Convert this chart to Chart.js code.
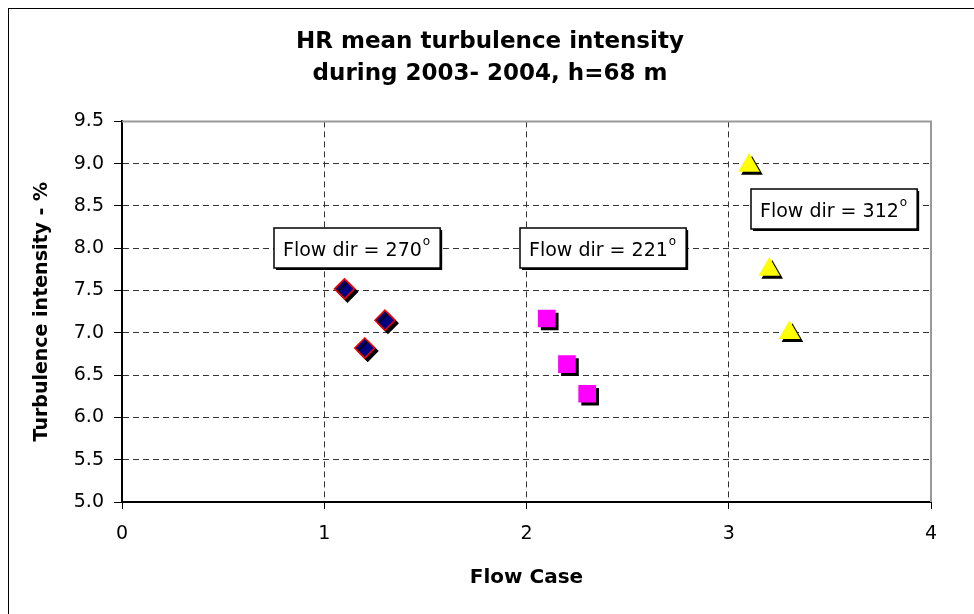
<!DOCTYPE html>
<html>
<head>
<meta charset="utf-8">
<script src="https://cdn.jsdelivr.net/npm/chart.js@4"></script>
<style>
  html, body { margin: 0; padding: 0; background: #fff; overflow: hidden; }
  #wrap { position: relative; width: 974px; height: 614px; }
  #frame { position: absolute; left: 8px; top: 8px; width: 1200px; height: 900px; border: 1px solid #000; box-sizing: border-box; pointer-events: none; }
</style>
</head>
<body>
<div id="wrap">
  <canvas id="c" width="974" height="614"></canvas>
  <div id="frame"></div>
</div>
<script>
// HR mean turbulence intensity, three flow directions
var dir270X = [1.1, 1.2, 1.3];
var dir270Y = [7.52, 6.82, 7.15];
var dir221X = [2.1, 2.2, 2.3];
var dir221Y = [7.17, 6.63, 6.28];
var dir312X = [3.1, 3.2, 3.3];
var dir312Y = [8.98, 7.75, 7.0];

var noteText = ['Flow dir = 270', 'Flow dir = 221', 'Flow dir = 312'];
var noteX = [1.16, 2.38, 3.52];
var noteY = [8.0, 8.0, 8.47];

function pts(xs, ys) {
  return xs.map(function (x, i) { return { x: x, y: ys[i] }; });
}

var font = '"DejaVu Sans", Arial, sans-serif';

// black drop shadow under the markers
var shadowPlugin = {
  id: 'markerShadow',
  beforeDatasetsDraw: function (chart) {
    var ctx = chart.ctx;
    ctx.save();
    ctx.shadowColor = '#000';
    ctx.shadowOffsetX = 3;
    ctx.shadowOffsetY = 3;
    ctx.shadowBlur = 0;
  },
  afterDatasetsDraw: function (chart) { chart.ctx.restore(); }
};

// grey top/right edge of the plot, and the "Flow dir" boxes
var notesPlugin = {
  id: 'notes',
  beforeDatasetsDraw: function (chart) {
    var a = chart.chartArea, ctx = chart.ctx;
    ctx.save();
    ctx.strokeStyle = '#999';
    ctx.lineWidth = 2;
    ctx.beginPath();
    ctx.moveTo(a.left, a.top);
    ctx.lineTo(a.right, a.top);
    ctx.lineTo(a.right, a.bottom);
    ctx.stroke();
    ctx.restore();
  },
  afterDraw: function (chart) {
    var ctx = chart.ctx, xs = chart.scales.x, ys = chart.scales.y;
    ctx.save();
    noteText.forEach(function (t, i) {
      var cx = xs.getPixelForValue(noteX[i]);
      var cy = ys.getPixelForValue(noteY[i]);
      ctx.font = '19px ' + font;
      var w = ctx.measureText(t).width;
      ctx.font = '12px ' + font;
      var sw = ctx.measureText('o').width;
      var bw = w + sw + 20, bh = 40;
      var x0 = Math.round(cx - bw / 2), y0 = Math.round(cy - bh / 2);
      ctx.fillStyle = '#000';
      ctx.fillRect(x0 + 2, y0 + 2, bw, bh);
      ctx.fillStyle = '#fff';
      ctx.fillRect(x0, y0, bw, bh);
      ctx.strokeStyle = '#000';
      ctx.lineWidth = 1.5;
      ctx.strokeRect(x0, y0, bw, bh);
      ctx.fillStyle = '#000';
      ctx.textBaseline = 'alphabetic';
      ctx.textAlign = 'left';
      ctx.font = '19px ' + font;
      ctx.fillText(t, x0 + 9, y0 + 28);
      ctx.font = '12px ' + font;
      ctx.fillText('o', x0 + 9 + w + 1, y0 + 17);
    });
    ctx.restore();
  }
};

new Chart(document.getElementById('c'), {
  type: 'scatter',
  data: {
    datasets: [
      { label: '270', data: pts(dir270X, dir270Y), pointStyle: 'rectRot', pointRadius: 10,
        backgroundColor: '#000080', borderColor: '#ff0000', borderWidth: 1.5 },
      { label: '221', data: pts(dir221X, dir221Y), pointStyle: 'rect', pointRadius: 12.5,
        backgroundColor: '#ff00ff', borderColor: '#ff00ff', borderWidth: 0 },
      { label: '312', data: pts(dir312X, dir312Y), pointStyle: 'triangle', pointRadius: 12.5,
        backgroundColor: '#ffff00', borderColor: '#ffff00', borderWidth: 0 }
    ]
  },
  options: {
    responsive: false,
    animation: false,
    // wider left padding so the centred title sits where the original has it
    layout: { padding: { left: 49, right: 43, top: 0, bottom: 0 } },
    plugins: {
      legend: { display: false },
      tooltip: { enabled: false },
      title: {
        display: true,
        text: ['HR mean turbulence intensity', 'during 2003- 2004, h=68 m'],
        color: '#000',
        font: { family: font, size: 23, weight: 'bold', lineHeight: 1.4 },
        padding: { top: 26, bottom: 31 }
      }
    },
    scales: {
      x: {
        type: 'linear', min: 0, max: 4,
        afterFit: function (s) { s.height = 112; },
        ticks: { stepSize: 1, color: '#000', padding: 14, font: { family: font, size: 19 } },
        grid: { color: '#333', tickColor: '#000', tickLength: 7, tickBorderDash: [] },
        border: { color: '#000', width: 2, dash: [6, 4] },
        title: { display: true, text: 'Flow Case', color: '#000', padding: { top: 0, bottom: 24 },
                 font: { family: font, size: 20, weight: 'bold' } }
      },
      y: {
        min: 5, max: 9.5,
        afterFit: function (s) { s.width = 73; },
        ticks: { stepSize: 0.5, color: '#000', padding: 10, font: { family: font, size: 19 },
                 callback: function (v) { return Number(v).toFixed(1); } },
        grid: { color: '#333', tickColor: '#000', tickLength: 8, tickBorderDash: [] },
        border: { color: '#000', width: 2, dash: [6, 4] },
        title: { display: true, text: 'Turbulence intensity - %', color: '#000', padding: { top: -18, bottom: 0 },
                 font: { family: font, size: 19, weight: 'bold' } }
      }
    }
  },
  plugins: [notesPlugin, shadowPlugin]
});
</script>
</body>
</html>
